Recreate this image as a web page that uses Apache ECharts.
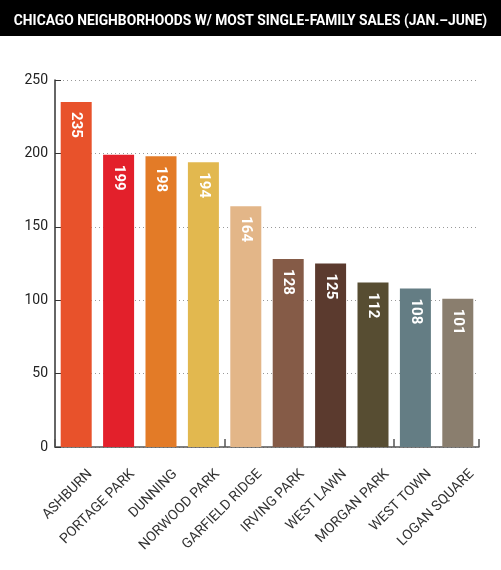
<!DOCTYPE html>
<html>
<head>
<meta charset="utf-8">
<script src="https://cdn.jsdelivr.net/npm/echarts@6/dist/echarts.min.js"></script>
<style>
html,body{margin:0;padding:0;background:#fff;}
#chart{width:501px;height:570px;}
</style>
</head>
<body>
<div id="chart"></div>
<script>
const titleText = 'CHICAGO NEIGHBORHOODS W/ MOST SINGLE-FAMILY SALES (JAN.\u2013JUNE)';
const categories = ['ASHBURN','PORTAGE PARK','DUNNING','NORWOOD PARK','GARFIELD RIDGE','IRVING PARK','WEST LAWN','MORGAN PARK','WEST TOWN','LOGAN SQUARE'];
const sales = [235,199,198,194,164,128,125,112,108,101];
const barColors = ['#E8522B','#E3202B','#E37B27','#E2B84F','#E3B688','#855B47','#5B3A2E','#574D32','#647D84','#8A7E6E'];
const yTicks = [0,50,100,150,200,250];

const chart = echarts.init(document.getElementById('chart'), null, {renderer:'canvas'});
chart.setOption({
  animation:false,
  backgroundColor:'#fff',
  graphic:[{type:'rect',left:0,top:0,shape:{width:501,height:36},style:{fill:'#000'},z:0}],
  title:{
    text:titleText,left:'center',top:10,
    textStyle:{color:'#fff',fontSize:13.8,fontWeight:'bold',fontFamily:'Roboto'}
  },
  grid:[
    {left:55,right:22,top:80,bottom:123,containLabel:false,outerBoundsMode:'none'},
    {left:69,right:8,top:80,bottom:123,containLabel:false,outerBoundsMode:'none'}
  ],
  xAxis:[{
    type:'category',data:categories,gridIndex:0,
    axisLine:{lineStyle:{color:'#555',width:1.5}},
    axisTick:{show:true,inside:true,length:8,lineStyle:{color:'#555',width:1.5}},
    axisLabel:{show:false}
  },{
    type:'category',data:categories,gridIndex:1,
    axisLine:{show:false},axisTick:{show:false},splitLine:{show:false},
    axisLabel:{interval:0,rotate:45,margin:25,color:'#333',fontSize:14,fontFamily:'Roboto'}
  }],
  yAxis:[{
    type:'value',min:yTicks[0],max:yTicks[yTicks.length-1],interval:50,gridIndex:0,
    axisLine:{show:true,lineStyle:{color:'#333',width:1.5}},
    axisTick:{show:true,inside:true,length:6,lineStyle:{color:'#333'}},
    axisLabel:{color:'#222',fontSize:14,margin:7,fontFamily:'Roboto'},
    splitLine:{show:true,lineStyle:{color:'#999',type:[1,3],width:1}}
  },{
    type:'value',gridIndex:1,min:0,max:250,show:false
  }],
  series:[{
    type:'bar',xAxisIndex:0,yAxisIndex:0,
    data:sales.map((v,i)=>({value:v,itemStyle:{color:barColors[i]}})),
    barWidth:31,
    label:{
      show:true,position:'insideTop',distance:10,rotate:-90,align:'left',verticalAlign:'middle',
      color:'#fff',fontSize:15,fontWeight:'bold',fontFamily:'Roboto'
    }
  }]
});
</script>
</body>
</html>
